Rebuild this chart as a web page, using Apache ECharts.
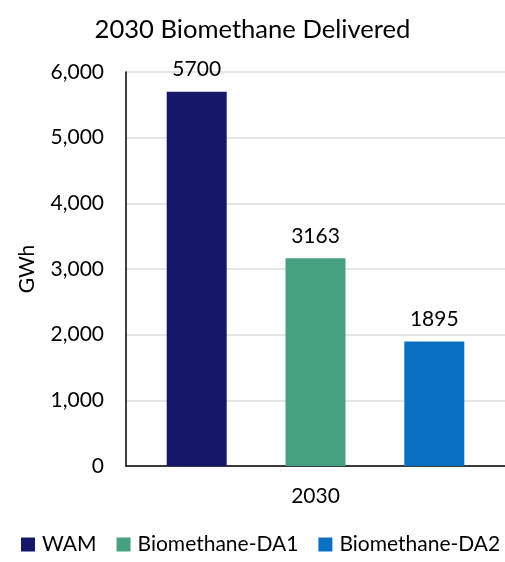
<!DOCTYPE html>
<html>
<head>
<meta charset="utf-8">
<script src="https://cdn.jsdelivr.net/npm/echarts@6/dist/echarts.min.js"></script>
<style>
  html, body { margin: 0; padding: 0; background: #fff; }
  #chart { width: 505px; height: 562px; }
</style>
</head>
<body>
<div id="chart"></div>
<script>
// Biomethane delivered in 2030, by scenario (GWh)
const categories = ['2030'];
const seriesNames = ['WAM', 'Biomethane-DA1', 'Biomethane-DA2'];
const wamValues = [5700];
const da1Values = [3163];
const da2Values = [1895];
const seriesColors = ['#17176A', '#48A17E', '#0A70C2'];

const FONT = 'Lato, "Open Sans", sans-serif';
const valuesBySeries = [wamValues, da1Values, da2Values];

const chart = echarts.init(document.getElementById('chart'));
chart.setOption({
  animation: false,
  textStyle: { fontFamily: FONT, color: '#000' },
  title: {
    text: '2030 Biomethane Delivered',
    left: 'center',
    top: 12,
    textStyle: { fontFamily: FONT, fontSize: 25.6, fontWeight: 'normal', color: '#000' }
  },
  legend: {
    bottom: 2,
    left: 16,
    width: 500,
    padding: [5, 0, 5, 5],
    itemWidth: 14,
    itemHeight: 14,
    itemGap: 20,
    icon: 'rect',
    textStyle: { fontFamily: FONT, fontSize: 21, color: '#000', padding: [0, 0, 0, 2] },
    data: seriesNames
  },
  grid: { left: 126, top: 72, width: 388, height: 394 },
  xAxis: {
    type: 'category',
    data: categories,
    axisLine: { lineStyle: { color: '#000', width: 1.5 } },
    axisTick: { show: false },
    axisLabel: { fontFamily: FONT, fontSize: 21, color: '#000', margin: 20 }
  },
  yAxis: {
    type: 'value',
    min: 0,
    max: 6000,
    interval: 1000,
    name: 'GWh',
    nameLocation: 'middle',
    nameGap: 88,
    nameRotate: 90,
    nameTextStyle: { fontFamily: FONT, fontSize: 21, color: '#000' },
    axisLine: { show: true, lineStyle: { color: '#000', width: 1.5 } },
    axisTick: { show: false },
    axisLabel: {
      fontFamily: FONT, fontSize: 21, color: '#000', margin: 22,
      formatter: v => v.toLocaleString('en-US')
    },
    splitLine: { lineStyle: { color: '#DDDDDD', width: 1.5 } }
  },
  series: seriesNames.map((name, i) => ({
    name,
    type: 'bar',
    data: valuesBySeries[i],
    barWidth: 60,
    barGap: '98%',
    itemStyle: { color: seriesColors[i] },
    label: {
      show: true,
      position: 'top',
      distance: 12,
      fontFamily: FONT,
      fontSize: 21,
      color: '#000'
    }
  }))
});
</script>
</body>
</html>
